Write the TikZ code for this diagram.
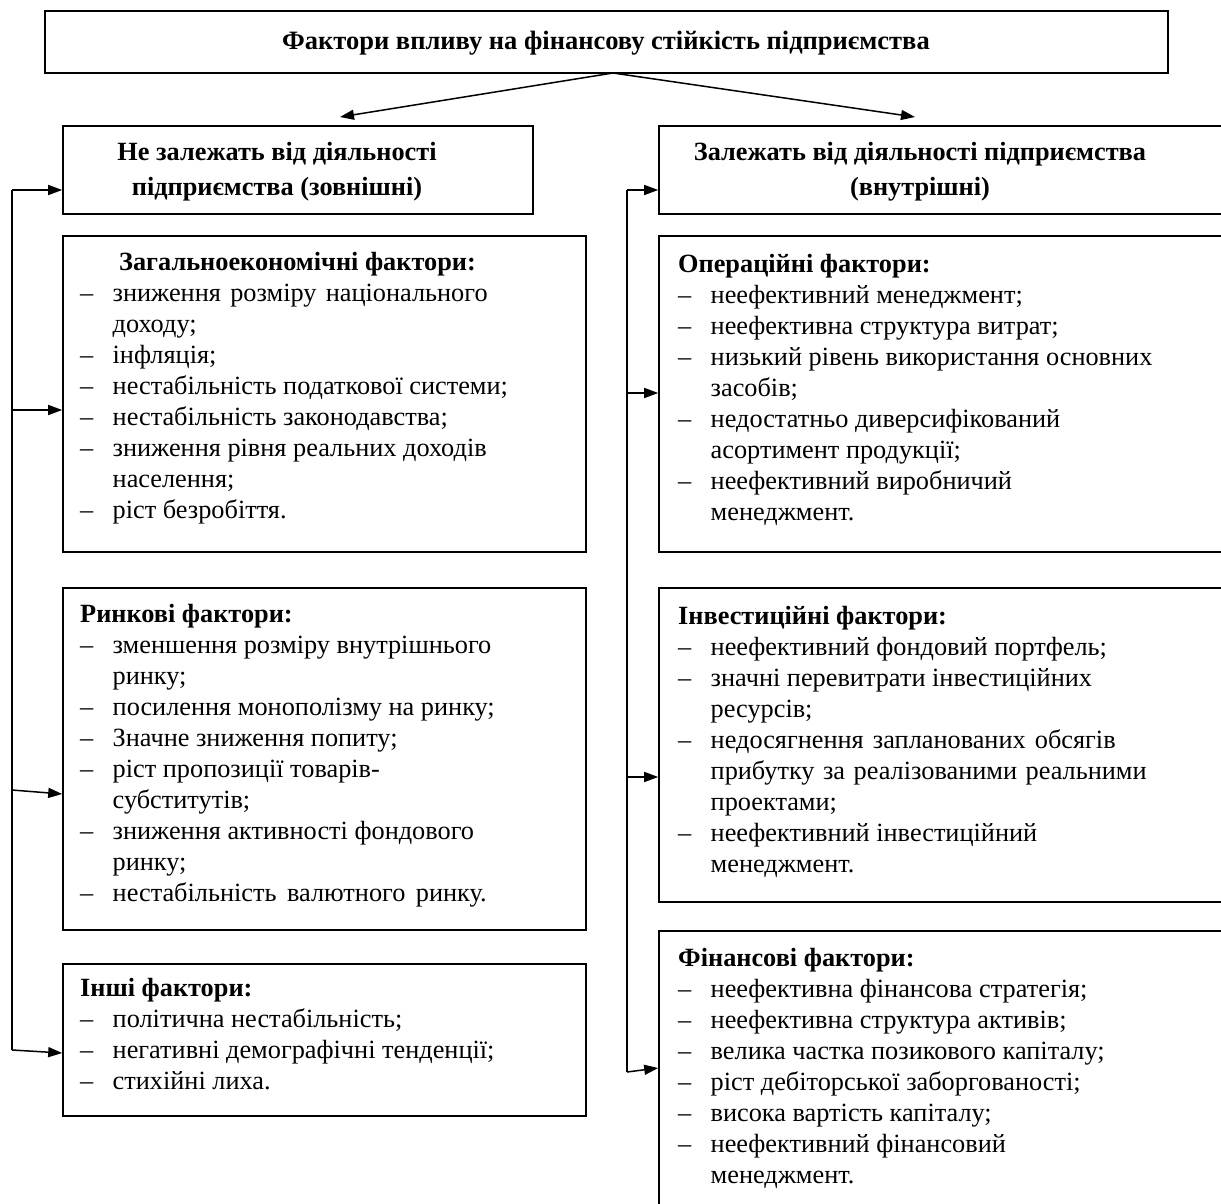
\documentclass[tikz,border=0pt]{standalone}
\usepackage{fontspec}
\setmainfont{Liberation Serif}
\usetikzlibrary{arrows.meta}
\newcommand\dsh{\makebox[32.5pt][l]{–}}
\newcommand\cnt{\hspace*{32.5pt}}
\tikzset{
  box/.style={draw, line width=1.6pt, inner sep=0pt, minimum width=#1},
  txt/.style={anchor=base west, align=left, inner sep=0pt, font=\fontsize{26.3}{31}\selectfont},
  hdr/.style={anchor=base, align=center, inner sep=0pt, font=\fontsize{26.3}{35}\selectfont\bfseries},
  conn/.style={line width=1.3pt},
  arr/.style={line width=1.5pt, -{Triangle[length=14pt,width=10pt]}}
}
\begin{document}
\begin{tikzpicture}[x=1pt,y=-1pt]
\useasboundingbox (0,0) rectangle (1221,1204);
% boxes
\node[box=1123pt, minimum height=62pt] (top) at (606.5,42) {};
\node[box=470pt, minimum height=88pt] (HL) at (298,170) {};
\node[box=591pt, minimum height=88pt] (HR) at (954.5,170) {};
\node[box=523pt, minimum height=316pt] (L2) at (324.5,394) {};
\node[box=523pt, minimum height=342pt] (L3) at (324.5,759) {};
\node[box=523pt, minimum height=152pt] (L4) at (324.5,1040) {};
\node[box=591pt, minimum height=316pt] (R2) at (954.5,394) {};
\node[box=591pt, minimum height=314pt] (R3) at (954.5,745) {};
\node[box=591pt, minimum height=319pt] (R4) at (954.5,1090.5) {};
% texts (base = baseline of the last line)
\node[anchor=base, inner sep=0pt, font=\fontsize{26.5}{31}\selectfont\bfseries] (ttop) at (606,50)
  {Фактори впливу на фінансову стійкість підприємства};
\node[hdr] (tHL) at (277,195) {Не залежать від діяльності\\підприємства (зовнішні)};
\node[hdr] (tHR) at (920,195) {Залежать від діяльності підприємства\\(внутрішні)};
\node[txt] (tL2) at (80,518) {\hspace*{39pt}\textbf{Загальноекономічні фактори:}\\
\dsh \makebox[375pt][s]{зниження розміру національного}\\
\cnt доходу;\\
\dsh інфляція;\\
\dsh нестабільність податкової системи;\\
\dsh нестабільність законодавства;\\
\dsh зниження рівня реальних доходів\\
\cnt населення;\\
\dsh ріст безробіття.};
\node[txt] (tL3) at (80,901) {\textbf{Ринкові фактори:}\\
\dsh зменшення розміру внутрішнього\\
\cnt ринку;\\
\dsh посилення монополізму на ринку;\\
\dsh Значне зниження попиту;\\
\dsh ріст пропозиції товарів-\\
\cnt субститутів;\\
\dsh зниження активності фондового\\
\cnt ринку;\\
\dsh \makebox[374pt][s]{нестабільність валютного ринку.}};
\node[txt] (tL4) at (80,1089) {\textbf{Інші фактори:}\\
\dsh політична нестабільність;\\
\dsh негативні демографічні тенденції;\\
\dsh стихійні лиха.};
\node[txt] (tR2) at (678,520) {\textbf{Операційні фактори:}\\
\dsh неефективний менеджмент;\\
\dsh неефективна структура витрат;\\
\dsh низький рівень використання основних\\
\cnt засобів;\\
\dsh недостатньо диверсифікований\\
\cnt асортимент продукції;\\
\dsh неефективний виробничий\\
\cnt менеджмент.};
\node[txt] (tR3) at (678,872) {\textbf{Інвестиційні фактори:}\\
\dsh неефективний фондовий портфель;\\
\dsh значні перевитрати інвестиційних\\
\cnt ресурсів;\\
\dsh \makebox[405pt][s]{недосягнення запланованих обсягів}\\
\cnt \makebox[436pt][s]{прибутку за реалізованими реальними}\\
\cnt проектами;\\
\dsh неефективний інвестиційний\\
\cnt менеджмент.};
\node[txt] (tR4) at (678,1183) {\textbf{Фінансові фактори:}\\
\dsh неефективна фінансова стратегія;\\
\dsh неефективна структура активів;\\
\dsh велика частка позикового капіталу;\\
\dsh ріст дебіторської заборгованості;\\
\dsh висока вартість капіталу;\\
\dsh неефективний фінансовий\\
\cnt менеджмент.};
% connectors from top
\coordinate (tp) at (613,73);
\coordinate (tL) at (340,117);
\coordinate (tR) at (915,117);
\draw[arr] (tp) -- (tL);
\draw[arr] (tp) -- (tR);
% left bracket
\coordinate (lv1) at (12,190);
\coordinate (lv2) at (12,410);
\coordinate (lv3) at (12,790);
\coordinate (lv4) at (12,1050);
\draw[conn] (lv1) -- (lv4);
\draw[arr] (lv1) -- (HL.west |- lv1);
\draw[arr] (lv2) -- (L2.west |- lv2);
\draw[arr] (lv3) -- ([yshift=-4pt]L3.west |- lv3);
\draw[arr] (lv4) -- ([yshift=-3pt]L4.west |- lv4);
% right bracket
\coordinate (rv1) at (627,190);
\coordinate (rv2) at (627,393);
\coordinate (rv3) at (627,777);
\coordinate (rv4) at (627,1072);
\draw[conn] (rv1) -- (rv4);
\draw[arr] (rv1) -- (HR.west |- rv1);
\draw[arr] (rv2) -- (R2.west |- rv2);
\draw[arr] (rv3) -- (R3.west |- rv3);
\draw[arr] (rv4) -- ([yshift=4pt]R4.west |- rv4);
\end{tikzpicture}
\end{document}
